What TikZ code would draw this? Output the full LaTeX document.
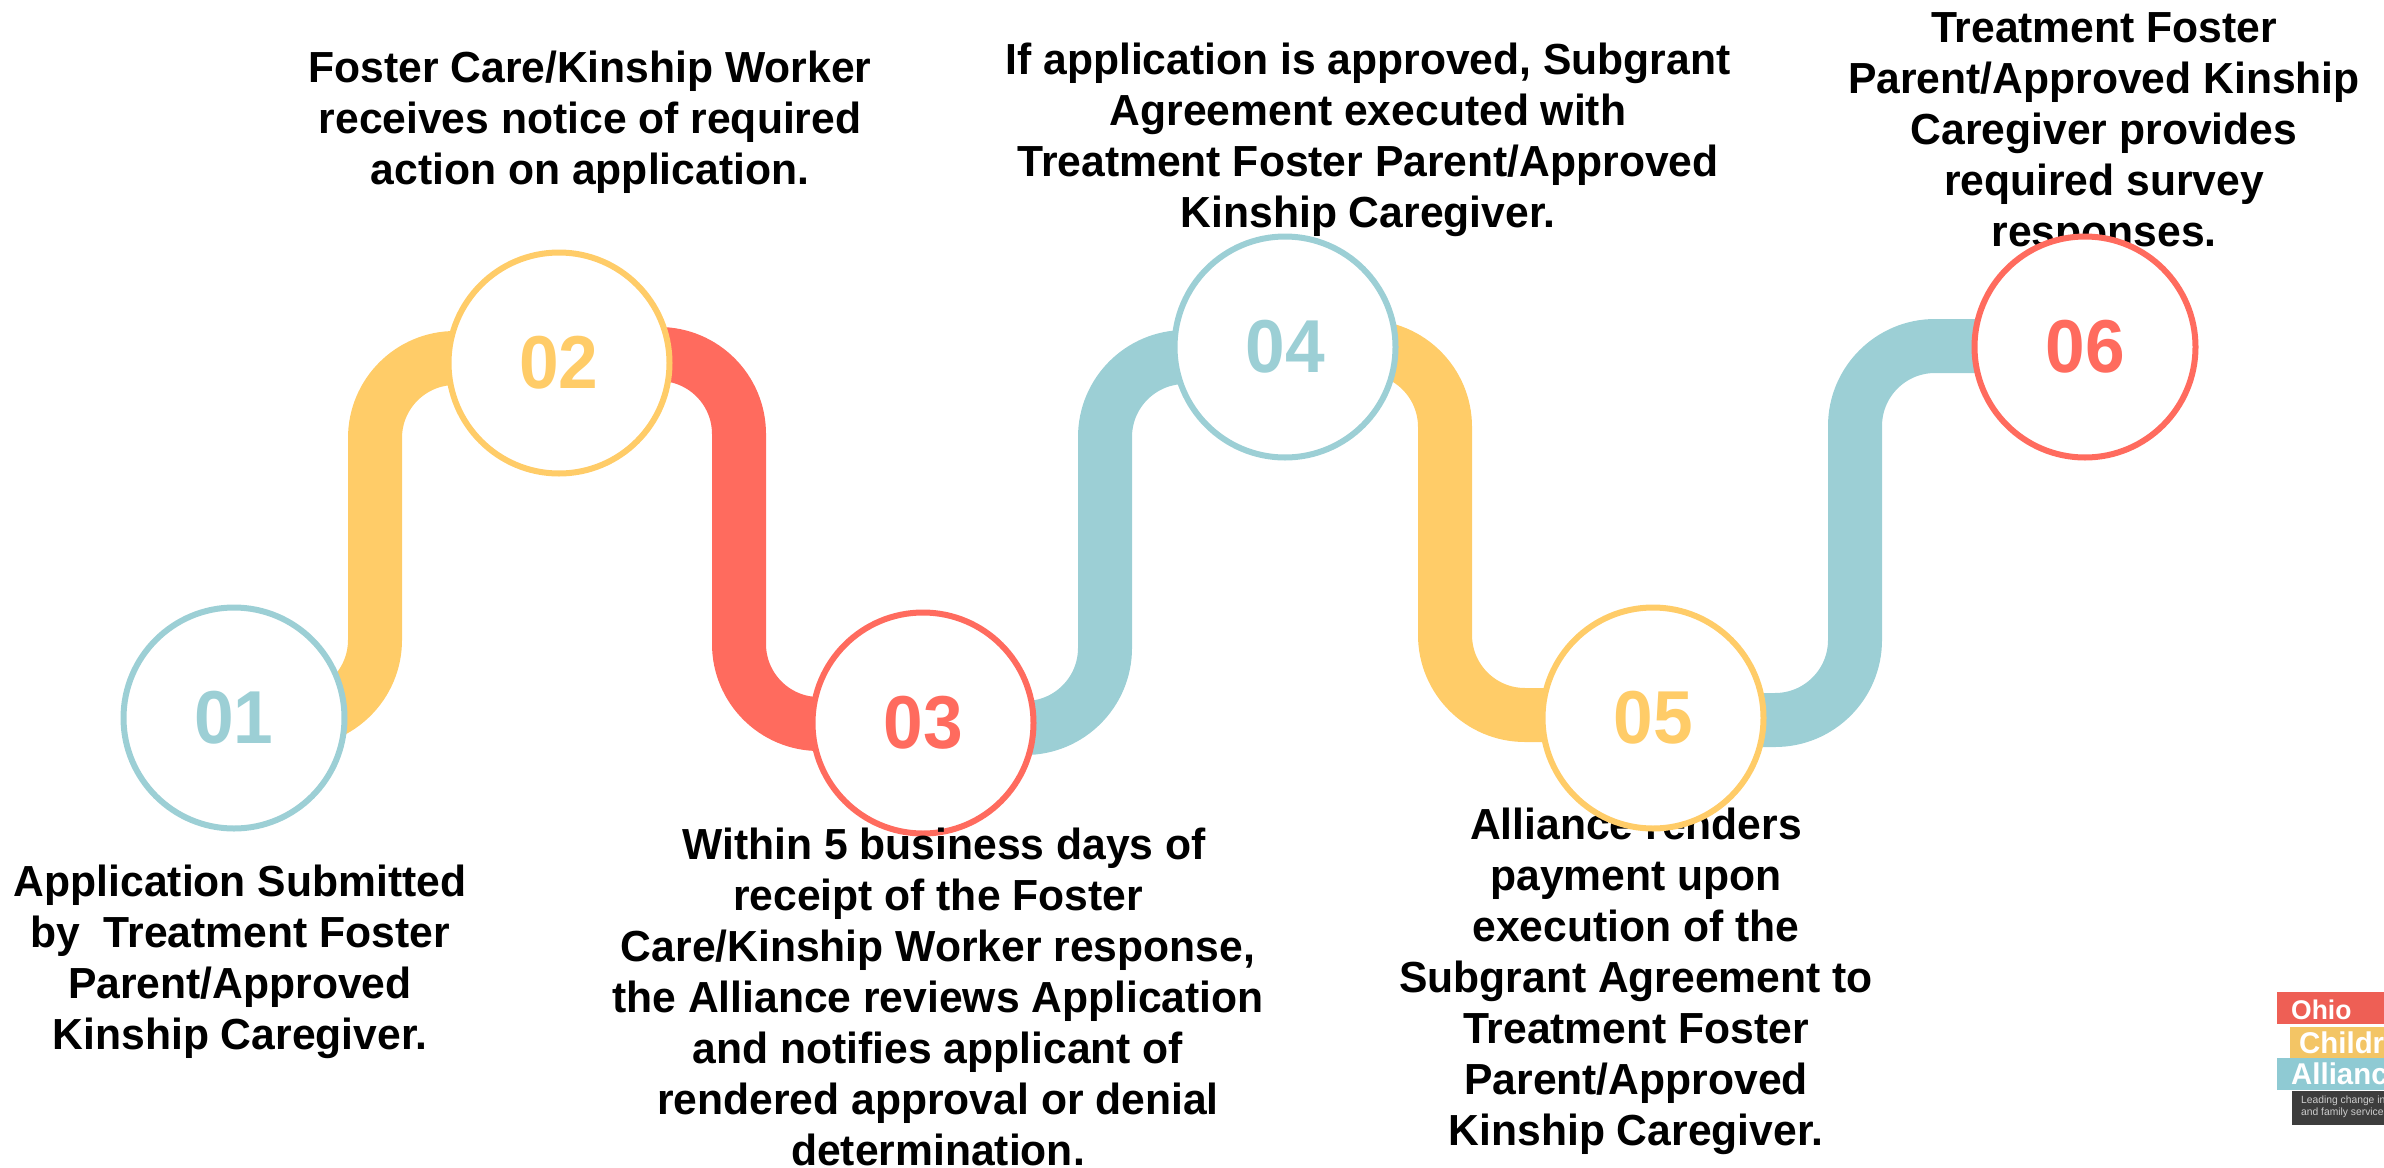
\documentclass[tikz,border=0pt]{standalone}
\usepackage{fontspec}
\setmainfont[FakeStretch=0.98]{Liberation Sans}
\newfontfamily\numfont[FakeStretch=0.95]{Liberation Sans}
\definecolor{tealc}{HTML}{9CCFD5}
\definecolor{yellc}{HTML}{FFCC68}
\definecolor{redc}{HTML}{FF6B5E}
\definecolor{logored}{HTML}{EE5F55}
\definecolor{logoyell}{HTML}{F3C565}
\definecolor{logoteal}{HTML}{8FCAD3}
\definecolor{logodark}{HTML}{3D3D3D}
\tikzset{
  stepcircle/.style={circle,draw=#1,text=#1,fill=white,line width=6pt,minimum size=221pt,inner sep=0pt,
    font=\numfont\fontsize{75}{75}\selectfont\bfseries},
  band/.style={draw=#1,line width=54pt,rounded corners=80pt,line cap=butt},
  caption/.style={align=center,inner sep=0pt,text=black,font=\fontsize{43.5}{51}\selectfont\bfseries},
  logobar/.style={fill=#1,draw=none,inner sep=0pt,anchor=north west,minimum height=32pt},
  logotext/.style={text=white,inner sep=0pt,anchor=west,font=\fontsize{#1}{#1}\selectfont\bfseries},
}
\begin{document}
\begin{tikzpicture}[x=1pt,y=-1pt]
\useasboundingbox (0,0) rectangle (2384,1167);
\clip (0,0) rectangle (2384,1167);
% captions that the circles cover
\node[caption] (t1) at (240,962) {Application Submitted\\by\ \ Treatment Foster\\Parent/Approved\\Kinship Caregiver.};
\node[caption] (t2) at (590,122) {Foster Care/Kinship Worker\\receives notice of required\\action on application.};
\node[caption] (t4) at (1368,140) {If application is approved, Subgrant\\Agreement executed with\\Treatment Foster Parent/Approved\\Kinship Caregiver.};
\node[caption] (t5) at (1636,981) {Alliance renders\\payment upon\\execution of the\\Subgrant Agreement to\\Treatment Foster\\Parent/Approved\\Kinship Caregiver.};
\node[caption] (t6) at (2104,134) {Treatment Foster\\Parent/Approved Kinship\\Caregiver provides\\required survey\\responses.};
% step circle positions
\coordinate (c1) at (234,718);
\coordinate (c2) at (559,363);
\coordinate (c3) at (923,723);
\coordinate (c4) at (1285,347);
\coordinate (c5) at (1653,718);
\coordinate (c6) at (2085,347);
% corners of connectors
\coordinate (k1) at (375,720); \coordinate (k2) at (375,358);
\coordinate (k3) at (739,354); \coordinate (k4) at (739,724);
\coordinate (k5) at (1105,728); \coordinate (k6) at (1105,357);
\coordinate (k7) at (1445,347); \coordinate (k8) at (1445,715);
\coordinate (k9) at (1855,720); \coordinate (k10) at (1855,346);
% step circles (empty first so connectors can refer to them)
\path (c1) node (n1) {}; \path (c2) node (n2) {}; \path (c3) node (n3) {};
\path (c4) node (n4) {}; \path (c5) node (n5) {}; \path (c6) node (n6) {};
% connectors
\draw[band=yellc] ([yshift=-2pt]n1.center) -- (k1) -- (k2) -- ([yshift=5pt]n2.center);
\draw[band=redc] ([yshift=9pt]n2.center) -- (k3) -- (k4) -- ([yshift=-1pt]n3.center);
\draw[band=tealc] ([yshift=-5pt]n3.center) -- (k5) -- (k6) -- ([yshift=-10pt]n4.center);
\draw[band=yellc] (n4.center) -- (k7) -- (k8) -- ([yshift=3pt]n5.center);
\draw[band=tealc] ([yshift=-2pt]n5.center) -- (k9) -- (k10) -- ([yshift=1pt]n6.center);
% circles on top
\node[stepcircle=tealc] (s1) at (c1) {01};
\node[stepcircle=yellc] (s2) at (c2) {02};
\node[stepcircle=redc] (s3) at (c3) {03};
\node[stepcircle=tealc] (s4) at (c4) {04};
\node[stepcircle=yellc] (s5) at (c5) {05};
\node[stepcircle=redc] (s6) at (c6) {06};
% this caption lies over its circle
\node[caption] (t3) at (938,997) {\hspace*{12pt}Within 5 business days of\\receipt of the Foster\\Care/Kinship Worker response,\\the Alliance reviews Application\\and notifies applicant of\\rendered approval or denial\\determination.};
% logo
\node[logobar=logored,minimum width=107pt] (lg1) at (2277,992) {};
\node[logobar=logoyell,minimum width=94pt] (lg2) at (2290,1027) {};
\node[logobar=logoteal,minimum width=107pt] (lg3) at (2277,1058) {};
\node[logobar=logodark,minimum width=92pt,minimum height=34pt] (lg4) at (2292,1091) {};
\node[logotext=27] (lt1) at (2291,1010) {Ohio};
\node[logotext=30] (lt2) at (2299,1043) {Children's};
\node[logotext=30] (lt3) at (2291,1074) {Alliance};
\node[text=white!80!black,inner sep=0pt,anchor=north west,align=left,font=\fontsize{10.5}{11.5}\selectfont] (lt4) at (2301,1096) {Leading change in child\\and family services};
\end{tikzpicture}
\end{document}
